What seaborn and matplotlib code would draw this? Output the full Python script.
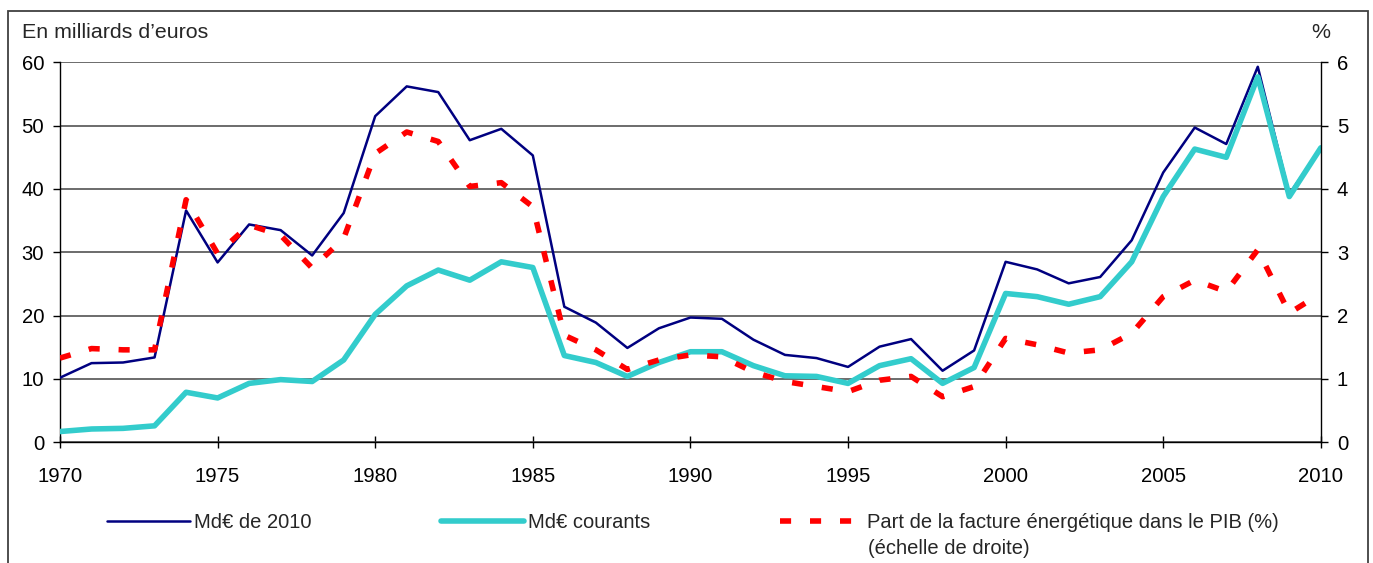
import matplotlib
matplotlib.use("Agg")
import matplotlib.pyplot as plt
from matplotlib.lines import Line2D
from matplotlib.patches import Rectangle
import seaborn as sns
import pandas as pd

years = list(range(1970, 2011))

# Facture énergétique en milliards d'euros constants (2010)
md_2010 = [10.2, 12.5, 12.6, 13.4, 36.6, 28.4, 34.4, 33.5, 29.5, 36.2,
           51.5, 56.2, 55.3, 47.7, 49.5, 45.3, 21.4, 18.9, 14.9, 18.0,
           19.7, 19.5, 16.2, 13.8, 13.3, 11.9, 15.1, 16.3, 11.3, 14.5,
           28.5, 27.3, 25.1, 26.1, 31.9, 42.6, 49.7, 47.1, 59.3, 39.2,
           46.5]

# Facture énergétique en milliards d'euros courants
md_courants = [1.7, 2.1, 2.2, 2.6, 7.9, 7.0, 9.3, 9.9, 9.6, 13.0,
               20.2, 24.7, 27.2, 25.6, 28.5, 27.6, 13.7, 12.6, 10.4, 12.6,
               14.3, 14.3, 12.1, 10.5, 10.4, 9.3, 12.1, 13.2, 9.3, 11.8,
               23.5, 23.0, 21.8, 23.0, 28.5, 38.8, 46.3, 45.0, 57.7, 38.8,
               46.5]

# Part de la facture énergétique dans le PIB (%)
part_pib = [1.33, 1.48, 1.46, 1.46, 3.83, 2.98, 3.43, 3.27, 2.75, 3.22,
            4.56, 4.90, 4.75, 4.04, 4.10, 3.72, 1.69, 1.46, 1.15, 1.30,
            1.38, 1.35, 1.11, 0.96, 0.88, 0.80, 0.98, 1.04, 0.72, 0.88,
            1.64, 1.54, 1.41, 1.46, 1.72, 2.30, 2.56, 2.38, 3.04, 2.04,
            2.35]

labels = ["Md€ de 2010", "Md€ courants",
          "Part de la facture énergétique dans le PIB (%)"]
note_droite = "(échelle de droite)"
titre_gauche = "En milliards d’euros"
titre_droite = "%"

df = pd.DataFrame({"annee": years, "md2010": md_2010,
                   "courants": md_courants, "part": part_pib})

sns.set_style("white")
plt.rcParams["font.family"] = ["Liberation Sans", "DejaVu Sans"]
plt.rcParams["font.size"] = 14

BLEU = "#000080"
CYAN = "#33CCCC"
ROUGE = "#FF0000"
RED_DASH = (0, (2.0, 3.4))
FS_TICK = 14.6
FS_TITLE = 15.4
FS_LEG = 14.5

fig = plt.figure(figsize=(13.73, 5.63), dpi=100)
ax = fig.add_axes([0.0437, 0.2144, 0.9183, 0.6749])
ax2 = ax.twinx()

sns.lineplot(data=df, x="annee", y="md2010", ax=ax, color=BLEU,
             linewidth=1.8, zorder=3)
sns.lineplot(data=df, x="annee", y="courants", ax=ax, color=CYAN,
             linewidth=4.0, zorder=4)
sns.lineplot(data=df, x="annee", y="part", ax=ax2, color=ROUGE,
             linewidth=4.0, linestyle=RED_DASH)

ax.set_xlim(1970, 2010)
ax.set_ylim(0, 60)
ax2.set_ylim(0, 6)
ax.set_xticks(range(1970, 2011, 5))
ax.set_yticks(range(0, 61, 10))
ax2.set_yticks(range(0, 7))
ax.set_xlabel("")
ax.set_ylabel("")
ax2.set_ylabel("")

ax.grid(axis="y", color="#444444", linewidth=1.1)
ax.grid(axis="x", visible=False)
ax2.grid(False)
ax.set_axisbelow(True)

for a in (ax, ax2):
    for s in a.spines.values():
        s.set_visible(False)
ax.spines["left"].set_visible(True)
ax.spines["bottom"].set_visible(True)
ax2.spines["right"].set_visible(True)
for s in (ax.spines["left"], ax.spines["bottom"], ax2.spines["right"]):
    s.set_color("black")
    s.set_linewidth(1.0)

ax.tick_params(axis="y", direction="out", length=5, width=1, pad=6.5,
               labelsize=FS_TICK, colors="black", left=True)
ax.tick_params(axis="x", direction="inout", length=9, width=1, pad=13,
               labelsize=FS_TICK, colors="black", bottom=True)
ax2.tick_params(axis="y", direction="out", length=5, width=1, pad=6.5,
                labelsize=FS_TICK, colors="black", right=True)

fig.text(22 / 1373, 1 - 33 / 563, titre_gauche, ha="left", va="center",
         fontsize=FS_TITLE)
fig.text(1330 / 1373, 1 - 33 / 563, titre_droite, ha="right", va="center",
         fontsize=FS_TITLE)

handles = [
    Line2D([], [], color=BLEU, linewidth=1.8),
    Line2D([], [], color=CYAN, linewidth=4.0),
    Line2D([], [], color=ROUGE, linewidth=4.0, linestyle=RED_DASH),
]
xs = [107 / 1373, 441 / 1373, 780 / 1373]
y_leg = 1 - 523 / 563
for h, lab, x0 in zip(handles, labels, xs):
    fig.legend([h], [lab], loc="center left", bbox_to_anchor=(x0, y_leg),
               frameon=False, borderpad=0, borderaxespad=0,
               handlelength=4.1, handletextpad=0.2, fontsize=FS_LEG)
fig.text(868 / 1373, 1 - 549 / 563, note_droite, ha="left", va="center",
         fontsize=FS_LEG)

fig.patches.append(Rectangle((8 / 1373, -0.02), (1368 - 8) / 1373,
                             1 - 11 / 563 + 0.02, transform=fig.transFigure,
                             fill=False, edgecolor="#404040", linewidth=1.3))

fig.savefig("out.png", dpi=100)
